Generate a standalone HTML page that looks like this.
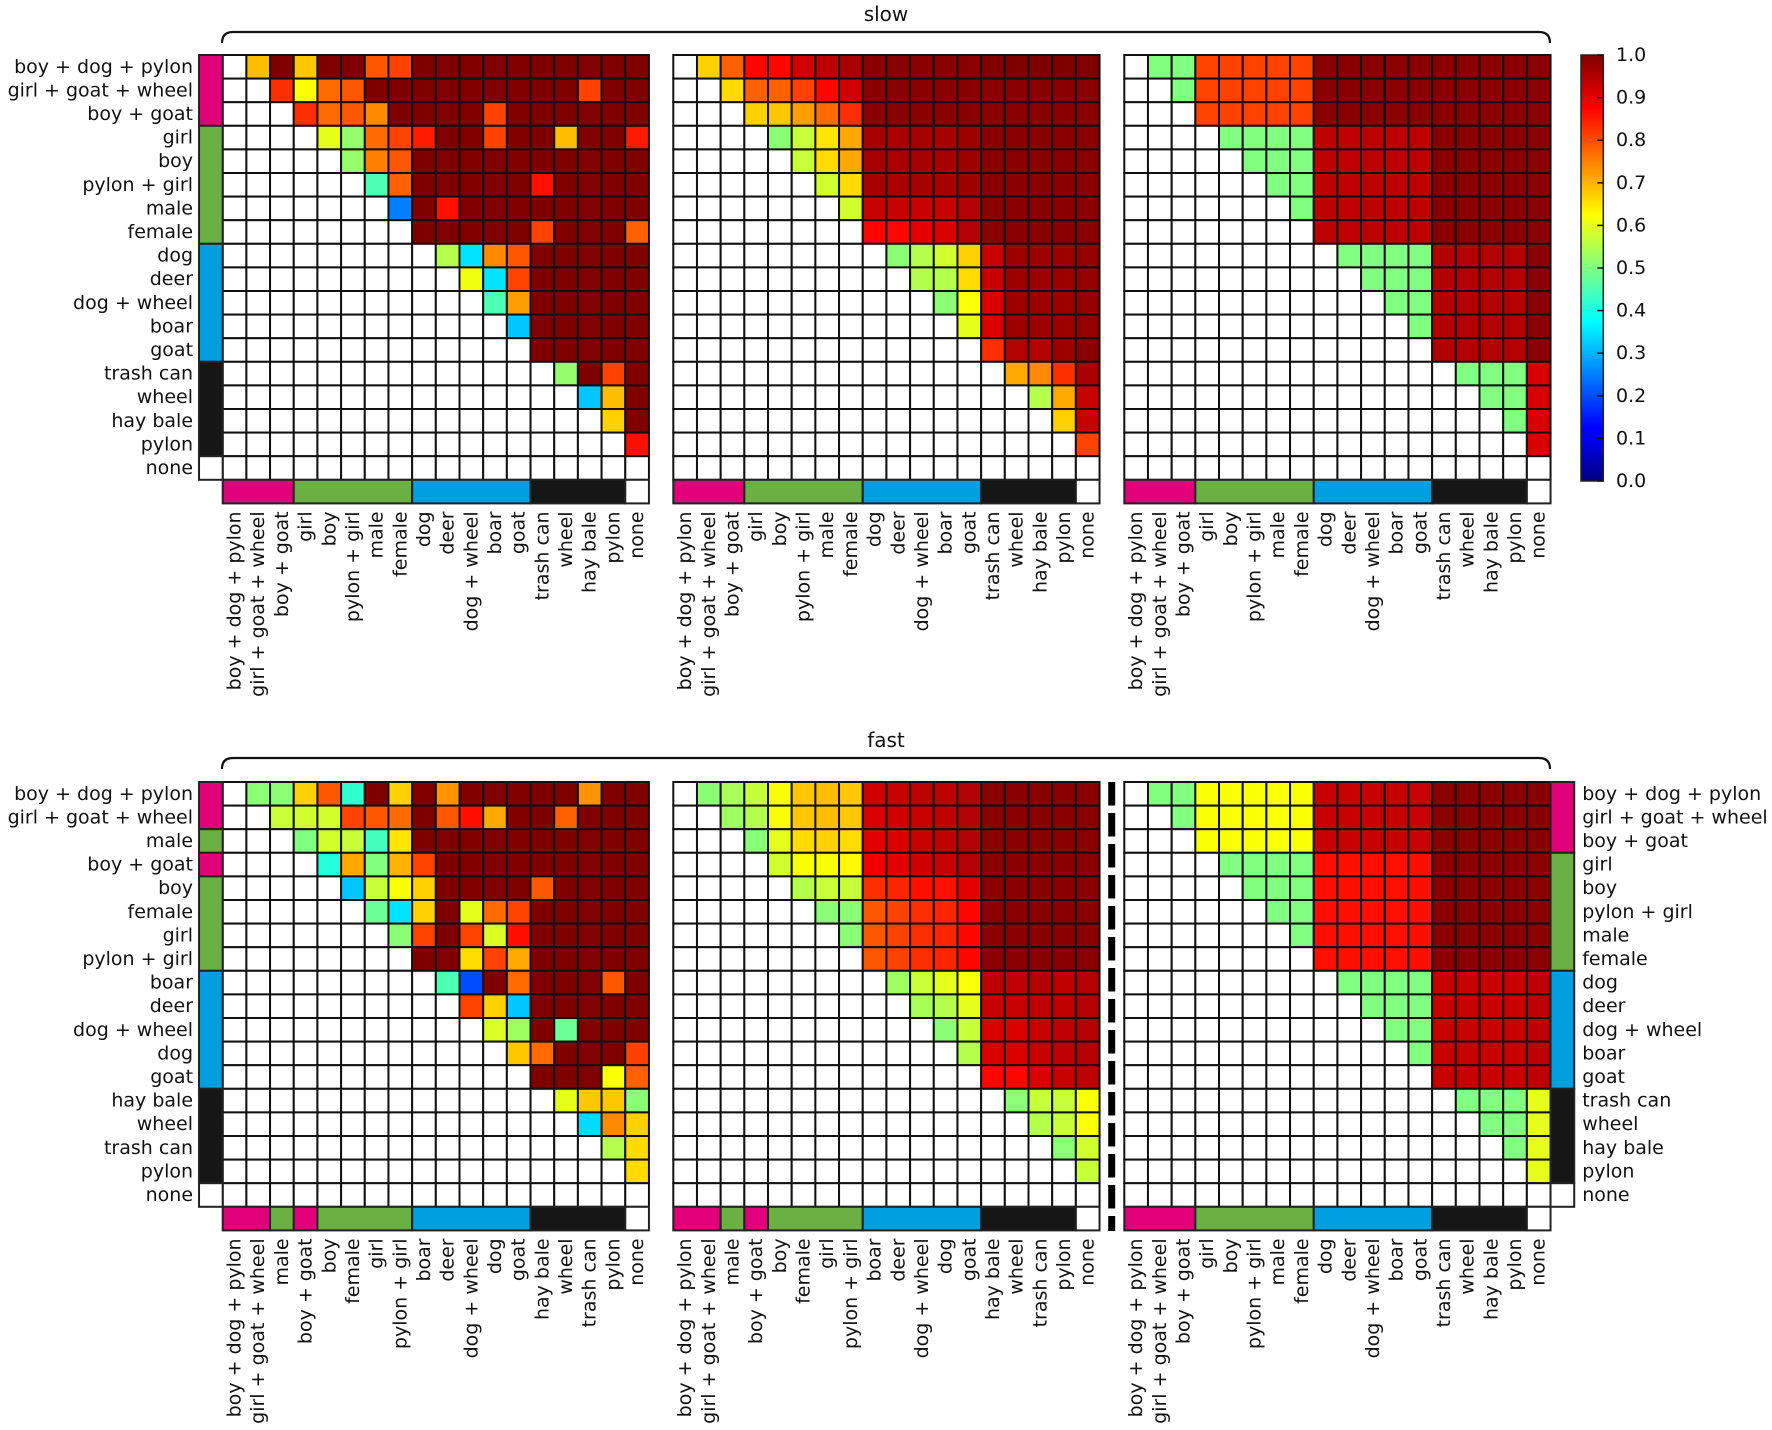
<!DOCTYPE html>
<html><head><meta charset="utf-8"><style>
html,body{margin:0;padding:0;background:#fff;}
svg{display:block;font-family:"DejaVu Sans","Liberation Sans",sans-serif;}
</style></head><body>
<svg id="fig" width="1772" height="1430" viewBox="0 0 1772 1430" xmlns="http://www.w3.org/2000/svg">
<defs>
<linearGradient id="jetgrad" x1="0" y1="1" x2="0" y2="0">
<stop offset="0" stop-color="#000080"/><stop offset="0.11" stop-color="#0000ff"/><stop offset="0.125" stop-color="#0000ff"/>
<stop offset="0.375" stop-color="#00ffff"/><stop offset="0.5" stop-color="#80ff80"/><stop offset="0.625" stop-color="#ffff00"/>
<stop offset="0.875" stop-color="#ff0000"/><stop offset="1" stop-color="#800000"/>
</linearGradient>
</defs>
<g id="root"></g>
</svg>
<script>
const slowLabels = ["boy + dog + pylon","girl + goat + wheel","boy + goat","girl","boy","pylon + girl","male","female","dog","deer","dog + wheel","boar","goat","trash can","wheel","hay bale","pylon","none"];
const fastLabels = ["boy + dog + pylon","girl + goat + wheel","male","boy + goat","boy","female","girl","pylon + girl","boar","deer","dog + wheel","dog","goat","hay bale","wheel","trash can","pylon","none"];
const slowGroups = ["m","m","m","g","g","g","g","g","b","b","b","b","b","k","k","k","k","w"];
const fastGroups = ["m","m","g","m","g","g","g","g","b","b","b","b","b","k","k","k","k","w"];
const cbTicks = [0,0.1,0.2,0.3,0.4,0.5,0.6,0.7,0.8,0.9,1.0];

const slowLeft = [
[.69,1,.68,1,1,.79,.81,1,1,1,1,1,1,1,1,1,1],
[.83,.62,.77,.79,1,1,1,1,1,1,1,1,1,.81,1,1],
[.83,.77,.79,.74,1,1,1,1,.81,1,1,1,1,1,1],
[.6,.52,.77,.81,.85,1,1,.81,1,1,.69,1,1,.85],
[.52,.75,.79,1,1,1,1,1,1,1,1,1,1],
[.45,.78,1,1,1,1,1,.86,1,1,1,1],
[.25,1,.86,1,1,1,1,1,1,1,1],
[1,1,1,1,1,.81,1,1,1,.78],
[.55,.35,.74,.79,1,1,1,1,1],
[.61,.35,.81,1,1,1,1,1],
[.45,.72,1,1,1,1,1],
[.32,1,1,1,1,1],
[1,1,1,1,1],
[.52,1,.81,1],
[.32,.69,1],
[.67,1],
[.86],
[]];
const slowMid = [
[.67,.78,.87,.87,.92,.94,.96,.99,.99,.99,.99,.99,1,1,1,1,1],
[.66,.78,.78,.81,.87,.92,.99,.99,.99,.99,.99,.99,.99,.99,.99,.99],
[.67,.68,.72,.77,.83,.99,.99,.99,.99,.99,.99,.99,.99,.99,.99],
[.51,.57,.65,.71,.96,.96,.96,.96,.97,.99,.99,.99,.99,.99],
[.57,.66,.71,.96,.96,.96,.96,.97,.99,.99,.99,.99,.99],
[.58,.66,.96,.96,.96,.96,.97,.99,.99,.99,.99,.99],
[.58,.93,.93,.93,.93,.95,.99,.99,.99,.99,.99],
[.87,.87,.9,.91,.95,.99,.99,.99,.99,.99],
[.51,.55,.58,.67,.93,.97,.97,.97,.98],
[.55,.55,.66,.93,.97,.97,.97,.98],
[.51,.62,.91,.97,.97,.97,.98],
[.6,.91,.97,.97,.97,.98],
[.83,.95,.95,.97,.99],
[.71,.74,.83,.96],
[.55,.71,.93],
[.67,.93],
[.81],
[]];
const slowRight = [
[.5,.5,.81,.81,.81,.81,.81,.99,.99,.99,.99,.99,.99,.99,.99,.99,.99],
[.5,.81,.81,.81,.81,.81,.99,.99,.99,.99,.99,.99,.99,.99,.99,.99],
[.81,.81,.81,.81,.81,.99,.99,.99,.99,.99,.99,.99,.99,.99,.99],
[.5,.5,.5,.5,.94,.94,.94,.94,.94,.99,.99,.99,.99,.99],
[.5,.5,.5,.94,.94,.94,.94,.94,.99,.99,.99,.99,.99],
[.5,.5,.94,.94,.94,.94,.94,.99,.99,.99,.99,.99],
[.5,.94,.94,.94,.94,.94,.99,.99,.99,.99,.99],
[.94,.94,.94,.94,.94,.99,.99,.99,.99,.99],
[.5,.5,.5,.5,.95,.95,.95,.95,.99],
[.5,.5,.5,.95,.95,.95,.95,.99],
[.5,.5,.95,.95,.95,.95,.99],
[.5,.95,.95,.95,.95,.99],
[.95,.95,.95,.95,.99],
[.5,.5,.5,.91],
[.5,.5,.91],
[.5,.91],
[.91],
[]];
const fastLeft = [
[.51,.51,.67,.79,.42,1,.67,1,.73,1,1,1,1,1,.73,1,1],
[.57,.58,.58,.81,.79,.77,1,.79,.86,.71,1,1,.78,1,1,1],
[.5,.58,.57,.44,.65,1,1,1,1,1,1,1,1,1,1],
[.41,.71,.5,.7,.81,1,1,1,1,1,1,1,1,1],
[.32,.57,.62,.67,1,1,1,1,.79,1,1,1,1],
[.48,.35,.67,1,.6,.77,.81,1,1,1,1,1],
[.51,.81,1,.81,.59,.86,1,1,1,1,1],
[1,1,.66,.81,.71,1,1,1,1,1],
[.45,.2,1,.77,1,1,1,.79,1],
[.81,.67,.32,1,1,1,1,1],
[.59,.53,1,.48,1,1,1],
[.68,.77,1,1,1,.81],
[1,1,1,.62,.78],
[.6,.68,.68,.51],
[.34,.74,.67],
[.55,.66],
[.66],
[]];
const fastMid = [
[.51,.54,.57,.62,.68,.69,.68,.92,.93,.94,.94,.95,.99,.99,.99,.99,.99],
[.53,.55,.62,.68,.69,.68,.91,.92,.93,.94,.95,.99,.99,.99,.99,.99],
[.51,.6,.66,.67,.66,.9,.91,.93,.94,.95,.99,.99,.99,.99,.99],
[.58,.62,.62,.63,.89,.9,.92,.93,.95,.99,.99,.99,.99,.99],
[.55,.57,.57,.83,.84,.86,.86,.9,.99,.99,.99,.99,.99],
[.51,.51,.79,.81,.83,.84,.87,.99,.99,.99,.99,.99],
[.51,.79,.81,.83,.84,.87,.99,.99,.99,.99,.99],
[.79,.81,.83,.84,.87,.99,.99,.99,.99,.99],
[.53,.57,.6,.62,.94,.94,.95,.94,.95],
[.54,.55,.6,.93,.93,.94,.94,.95],
[.51,.57,.91,.91,.93,.94,.95],
[.55,.91,.91,.93,.94,.95],
[.87,.87,.91,.93,.94],
[.51,.57,.57,.62],
[.55,.57,.62],
[.51,.58],
[.57],
[]];
const fastRight = [
[.5,.5,.62,.62,.62,.62,.62,.93,.93,.93,.93,.93,.99,.99,.99,.99,.99],
[.5,.62,.62,.62,.62,.62,.93,.93,.93,.93,.93,.99,.99,.99,.99,.99],
[.62,.62,.62,.62,.62,.93,.93,.93,.93,.93,.99,.99,.99,.99,.99],
[.5,.5,.5,.5,.86,.86,.86,.86,.86,.99,.99,.99,.99,.99],
[.5,.5,.5,.86,.86,.86,.86,.86,.99,.99,.99,.99,.99],
[.5,.5,.86,.86,.86,.86,.86,.99,.99,.99,.99,.99],
[.5,.86,.86,.86,.86,.86,.99,.99,.99,.99,.99],
[.86,.86,.86,.86,.86,.99,.99,.99,.99,.99],
[.5,.5,.5,.5,.93,.93,.93,.93,.94],
[.5,.5,.5,.93,.93,.93,.93,.94],
[.5,.5,.93,.93,.93,.93,.94],
[.5,.93,.93,.93,.93,.94],
[.93,.93,.93,.93,.94],
[.5,.5,.5,.6],
[.5,.5,.6],
[.5,.6],
[.6],
[]];

const NS = "http://www.w3.org/2000/svg";
const root = document.getElementById("root");
const groupColor = {m:"#e2007a", g:"#6ab042", b:"#009fdf", k:"#161616", w:"#ffffff"};
const FS = 19;
function clamp(v){return Math.max(0,Math.min(1,v));}
function jet(x){
  const r=clamp(1.5-Math.abs(4*x-3)), g=clamp(1.5-Math.abs(4*x-2)), b=clamp(1.5-Math.abs(4*x-1));
  return "rgb("+Math.round(r*255)+","+Math.round(g*255)+","+Math.round(b*255)+")";
}
function mk(tag, attrs, parent){
  const e=document.createElementNS(NS,tag);
  for(const k in attrs) e.setAttribute(k, attrs[k]);
  (parent||root).appendChild(e);
  return e;
}
const CW = 23.68, CH = 23.6, N = 18;

function drawPanel(name, gx, gy, data, colLabels, colGroups, rowLabels, rowGroups, side){
  const g = mk("g", {});
  
  
  const xs = c => gx + c*CW;
  const ys = r => gy + r*CH;
  for(let r=0;r<N;r++){
    for(let c=0;c<N;c++){
      let fill="#ffffff";
      if(c>r && data[r] && data[r][c-r-1]!==undefined) fill=jet(data[r][c-r-1]);
      const cell = mk("rect",{x:xs(c),y:ys(r),width:CW,height:CH,fill:fill,stroke:"#111",'stroke-width':2},g);
      
      
    }
  }
  let start=0;
  for(let c=1;c<=N;c++){
    if(c===N || colGroups[c]!==colGroups[start]){
      const s = mk("rect",{x:xs(start),y:ys(N),width:(c-start)*CW,height:CH,fill:groupColor[colGroups[start]],stroke:"#222",'stroke-width':2},g);
      
      
      start=c;
    }
  }
  for(let c=0;c<N;c++){
    const cx = xs(c)+CW/2, y0 = ys(N)+CH+8;
    const t = mk("text",{x:0,y:0,transform:"translate("+cx+","+y0+") rotate(-90)","text-anchor":"end","dominant-baseline":"central","font-size":FS,fill:"#111"},g);
    t.textContent = colLabels[c];
    
    
  }
  if(rowLabels){
    const sx = side==="left" ? gx-CW : gx+N*CW;
    let st=0;
    for(let r=1;r<=N;r++){
      if(r===N || rowGroups[r]!==rowGroups[st]){
        const s = mk("rect",{x:sx,y:ys(st),width:CW,height:(r-st)*CH,fill:groupColor[rowGroups[st]],stroke:"#222",'stroke-width':2},g);
        
        
        st=r;
      }
    }
    for(let r=0;r<N;r++){
      const tx = side==="left" ? sx-6 : sx+CW+8;
      const t = mk("text",{x:tx,y:ys(r)+CH/2,"text-anchor":side==="left"?"end":"start","dominant-baseline":"central","font-size":FS,fill:"#111"},g);
      t.textContent = rowLabels[r];
      
      
    }
  }
}

const TOP1 = 55, TOP2 = 782;
drawPanel("slow-panel-1", 222.7, TOP1, slowLeft, slowLabels, slowGroups, slowLabels, slowGroups, "left");
drawPanel("slow-panel-2", 673.3, TOP1, slowMid, slowLabels, slowGroups, null, null, null);
drawPanel("slow-panel-3", 1124.3, TOP1, slowRight, slowLabels, slowGroups, null, null, null);
drawPanel("fast-panel-1", 222.7, TOP2, fastLeft, fastLabels, fastGroups, fastLabels, fastGroups, "left");
drawPanel("fast-panel-2", 673.3, TOP2, fastMid, fastLabels, fastGroups, null, null, null);
drawPanel("fast-panel-3", 1124.3, TOP2, fastRight, slowLabels, slowGroups, slowLabels, slowGroups, "right");

function bracket(name, y, title){
  const p = mk("path",{d:"M222,"+(y+11)+" Q222,"+y+" 233,"+y+" L1539,"+y+" Q1550,"+y+" 1550,"+(y+11),fill:"none",stroke:"#111",'stroke-width':2.2});
  
  
  const t = mk("text",{x:886,y:y-11,"text-anchor":"middle","font-size":20,fill:"#111"});
  t.textContent = title;
  
  
}
bracket("slow", 32, "slow");
bracket("fast", 758, "fast");

const dl = mk("line",{x1:1111.7,y1:782,x2:1111.7,y2:1231,stroke:"#000",'stroke-width':7,'stroke-dasharray':"23.5 7.5"});



const cbX=1581, cbY=55, cbW=22.3, cbH=426;
const cb = mk("rect",{x:cbX,y:cbY,width:cbW,height:cbH,fill:"url(#jetgrad)",stroke:"#222",'stroke-width':1.5});


const cbScale = v => cbY + cbH - v*cbH;
cbTicks.forEach(v=>{
  const y = cbScale(v);
  const tk = mk("line",{x1:cbX+cbW-6,y1:y,x2:cbX+cbW,y2:y,stroke:"#111",'stroke-width':1.5});
  
  
  const t = mk("text",{x:1616,y:y,"dominant-baseline":"central","font-size":FS,fill:"#111"});
  t.textContent = v.toFixed(1);
  
  
});
</script>
</body></html>
